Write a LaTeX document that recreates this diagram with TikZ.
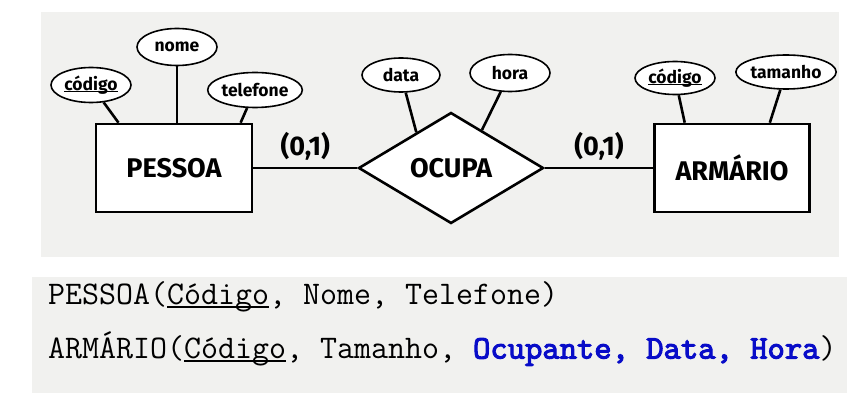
\documentclass[tikz,border=0pt]{standalone}
\usepackage{fontspec}
\usepackage{xcolor}
\usetikzlibrary{shapes.geometric, positioning, calc}
\setmainfont{Fira Sans}
\newfontfamily\schemabold{lmmono10-regular.otf}[FakeBold=3]
\definecolor{panel}{RGB}{241, 241, 239}
\definecolor{foreign}{RGB}{8, 12, 200}
% key attribute: underline set close to the baseline
\newcommand{\keyattr}[1]{\setbox0\hbox{#1}\rlap{\rule[-0.11em]{\wd0}{0.055em}}#1}

\begin{document}
\begin{tikzpicture}[
    x=1pt, y=-1pt,
    entity/.style={rectangle, draw=black, line width=2.6pt, fill=white,
                   minimum width=156pt, minimum height=88pt, inner sep=0pt,
                   font=\fontsize{27}{30}\selectfont\bfseries},
    relation/.style={diamond, draw=black, line width=2.6pt, fill=white, aspect=1.67,
                     minimum width=185pt, minimum height=111pt, inner sep=0pt,
                     font=\fontsize{27}{30}\selectfont\bfseries},
    attrib/.style={ellipse, draw=black, line width=1.6pt, fill=white,
                   minimum width=80pt, minimum height=35pt, inner sep=0pt,
                   font=\fontsize{17.5}{19}\selectfont\bfseries},
    link/.style={line width=2.6pt},
    card/.style={font=\fontsize{27}{30}\selectfont\bfseries},
    schema/.style={anchor=west, inner sep=0pt, font=\fontsize{33}{36}\selectfont\ttfamily}
]
\useasboundingbox (0,0) rectangle (856,414);

% Background panels
\fill[panel] (41,12) rectangle (839,257);
\fill[panel] (32,277) rectangle (847,393);

% Entities and relationship
\node[entity] (pessoa) at (174,168) {PESSOA};
\node[relation] (ocupa) at (451,168) {OCUPA};
\node[entity, minimum width=155pt] (armario) at (732,168) {ARMÁRIO};

% Attributes of PESSOA
\node[attrib] (pCodigo) at (91,85) {\keyattr{código}};
\node[attrib, minimum height=37pt] (pNome) at (177,47) {nome};
\node[attrib] (pTelefone) at (255,90) {telefone};

% Attributes of OCUPA
\node[attrib, minimum width=78pt, minimum height=34pt] (oData) at (401,75) {data};
\node[attrib, minimum height=37pt] (oHora) at (510,73) {hora};

% Attributes of ARMÁRIO
\node[attrib, minimum height=33pt] (aCodigo) at (675,78) {\keyattr{código}};
\node[attrib, minimum width=88pt, minimum height=34pt] (aTamanho) at (786,72) {tamanho};

% Connection points on the shapes
\coordinate (pCodigoEnd) at ($(pessoa.north west)!0.15!(pessoa.north east)$);
\coordinate (pNomeEnd) at (pNome |- pessoa.north);
\coordinate (pTelefoneEnd) at ($(pessoa.north west)!0.92!(pessoa.north east)$);
\coordinate (oDataEnd) at ($(ocupa.west)!0.63!(ocupa.north)$);
\coordinate (oHoraEnd) at ($(ocupa.north)!0.33!(ocupa.east)$);
\coordinate (aCodigoEnd) at ($(armario.north west)!0.2!(armario.north east)$);
\coordinate (aTamanhoEnd) at ($(armario.north west)!0.74!(armario.north east)$);

% Attribute links
\draw[link] (pCodigo) -- (pCodigoEnd);
\draw[link] (pNome) -- (pNomeEnd);
\draw[link] (pTelefone) -- (pTelefoneEnd);
\draw[link] (oData) -- (oDataEnd);
\draw[link] (oHora) -- (oHoraEnd);
\draw[link] (aCodigo) -- (aCodigoEnd);
\draw[link] (aTamanho) -- (aTamanhoEnd);

% Relationship links with cardinalities
\draw[link] (pessoa) -- node[card, above=3pt] {(0,1)} (ocupa);
\draw[link] (ocupa) -- node[card, above=3pt] {(0,1)} (armario);

% Relational schema
\node[schema] (relPessoa) at (48,297) {PESSOA(\keyattr{Código}, Nome, Telefone)};
\node[schema] (relArmario) at (48,349) {ARMÁRIO(\keyattr{Código}, Tamanho, \textcolor{foreign}{\schemabold Ocupante, Data, Hora})};

\end{tikzpicture}
\end{document}
